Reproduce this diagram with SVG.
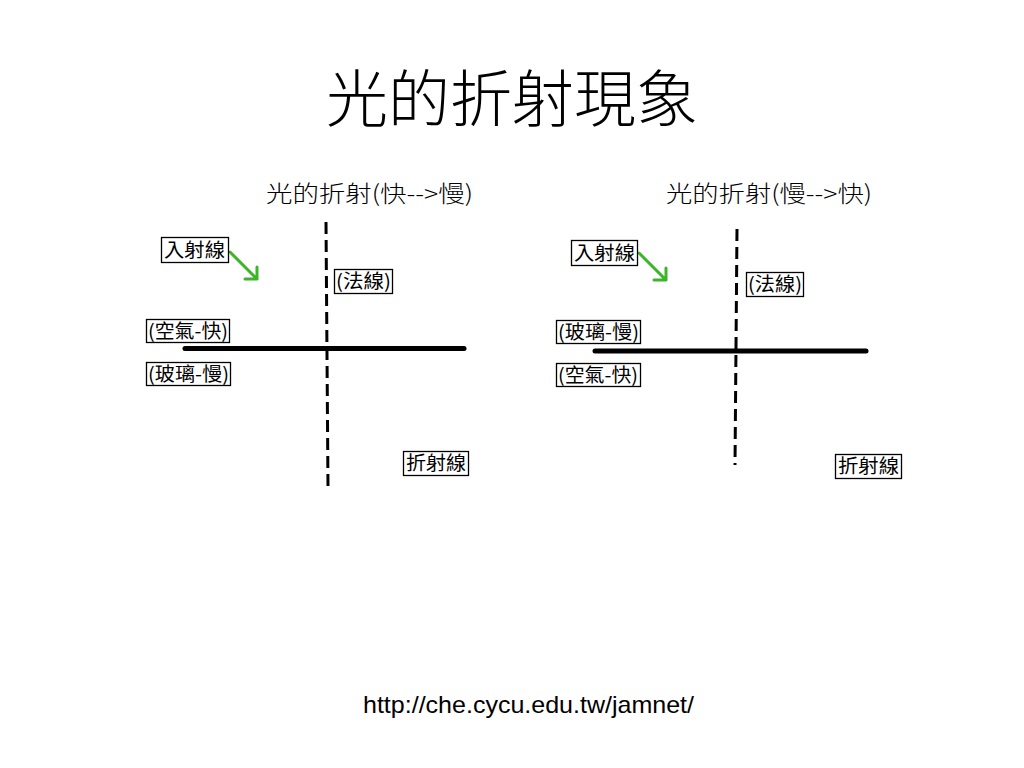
<svg xmlns="http://www.w3.org/2000/svg" width="1024" height="768" viewBox="0 0 1024 768">
<defs>
<style>
.cjk{font-family:"Noto Sans CJK TC","Noto Sans CJK SC",sans-serif;fill:#000}
.lbl{font-size:19px}
.sub{font-size:23px;font-weight:300}
.box{fill:#fff;stroke:#000;stroke-width:1.3}
.normal{stroke:#000;stroke-width:3;stroke-dasharray:12 6;fill:none}
.surface{stroke:#000;stroke-width:5;stroke-linecap:round;fill:none}
.ray{stroke:#3db42a;stroke-width:3;fill:none;stroke-linecap:round;stroke-linejoin:round}
</style>
</defs>
<rect width="1024" height="768" fill="#fff"/>
<text x="512" y="122" text-anchor="middle" class="cjk" font-size="62" font-weight="300" textLength="372" lengthAdjust="spacing">光的折射現象</text>

<!-- Left panel -->
<g id="left-panel">
<text class="cjk sub" x="266" y="202" textLength="207" lengthAdjust="spacingAndGlyphs">光的折射(快--&gt;慢)</text>
<g id="connectors-left">
<line class="normal" x1="326" y1="222" x2="328" y2="487"/>
<line class="surface" x1="185" y1="348.5" x2="464" y2="348.5"/>
<path class="ray" d="M230 252 L257 279 M257 267 L257 279 L245 279"/>
</g>
<g id="L-incident"><rect class="box" x="161.5" y="237.5" width="67" height="25"/><text class="cjk lbl" x="164" y="257" textLength="61" lengthAdjust="spacingAndGlyphs">入射線</text></g>
<g id="L-normal"><rect class="box" x="334.5" y="269.5" width="58" height="24"/><text class="cjk lbl" x="336" y="288" textLength="55" lengthAdjust="spacingAndGlyphs">(法線)</text></g>
<g id="L-air"><rect class="box" x="146.5" y="319.5" width="83" height="23"/><text class="cjk lbl" x="148" y="338" textLength="80" lengthAdjust="spacingAndGlyphs">(空氣-快)</text></g>
<g id="L-glass"><rect class="box" x="146.5" y="362.5" width="84" height="23"/><text class="cjk lbl" x="148" y="381" textLength="81" lengthAdjust="spacingAndGlyphs">(玻璃-慢)</text></g>
<g id="L-refracted"><rect class="box" x="403.5" y="451.5" width="65" height="24"/><text class="cjk lbl" x="406" y="470" textLength="60" lengthAdjust="spacingAndGlyphs">折射線</text></g>
</g>

<!-- Right panel -->
<g id="right-panel">
<text class="cjk sub" x="666" y="202" textLength="206" lengthAdjust="spacingAndGlyphs">光的折射(慢--&gt;快)</text>
<g id="connectors-right">
<line class="normal" x1="737" y1="229" x2="735" y2="465"/>
<line class="surface" x1="595" y1="351" x2="866" y2="351"/>
<path class="ray" d="M639 253 L666 280 M666 268 L666 280 L654 280"/>
</g>
<g id="R-incident"><rect class="box" x="571.5" y="240.5" width="66" height="25"/><text class="cjk lbl" x="574" y="260" textLength="61" lengthAdjust="spacingAndGlyphs">入射線</text></g>
<g id="R-normal"><rect class="box" x="746.5" y="272.5" width="57" height="24"/><text class="cjk lbl" x="748" y="291" textLength="54" lengthAdjust="spacingAndGlyphs">(法線)</text></g>
<g id="R-glass"><rect class="box" x="556.5" y="320.5" width="84" height="23"/><text class="cjk lbl" x="558" y="339" textLength="81" lengthAdjust="spacingAndGlyphs">(玻璃-慢)</text></g>
<g id="R-air"><rect class="box" x="556.5" y="363.5" width="84" height="23"/><text class="cjk lbl" x="558" y="382" textLength="80" lengthAdjust="spacingAndGlyphs">(空氣-快)</text></g>
<g id="R-refracted"><rect class="box" x="835.5" y="454.5" width="66" height="24"/><text class="cjk lbl" x="838" y="473" textLength="61" lengthAdjust="spacingAndGlyphs">折射線</text></g>
</g>

<text x="363" y="713" font-family="'Liberation Sans',Arial,sans-serif" font-size="24" textLength="331" lengthAdjust="spacingAndGlyphs" fill="#000">http://che.cycu.edu.tw/jamnet/</text>
</svg>
